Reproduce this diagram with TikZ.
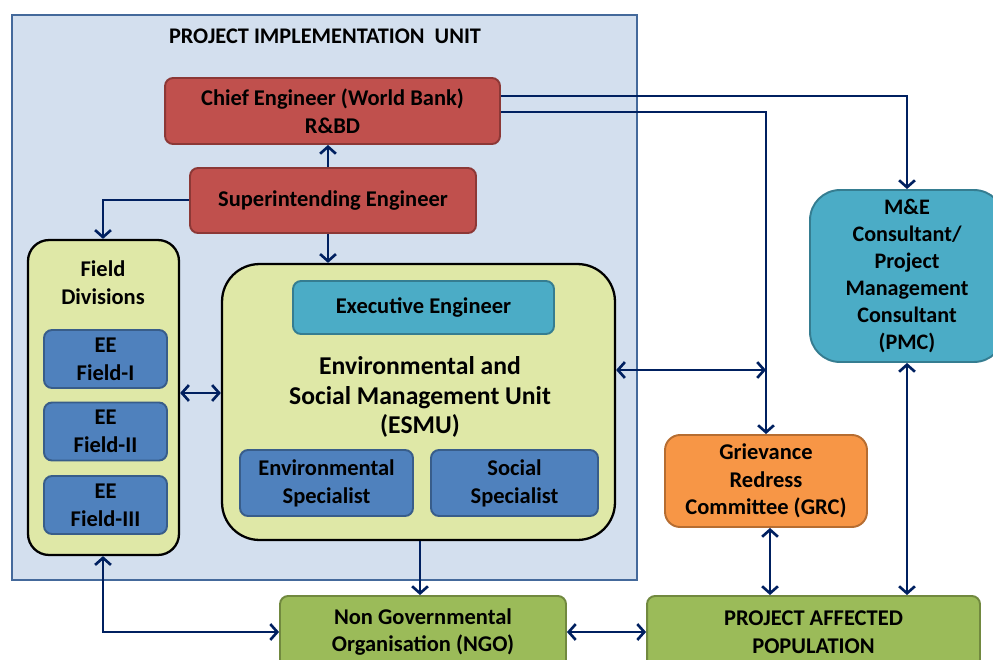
\documentclass[tikz,border=0pt]{standalone}
\usepackage{fontspec}
\setmainfont{Carlito}
\usetikzlibrary{arrows.meta,calc}
\definecolor{arrc}{HTML}{002060}
\definecolor{piufill}{HTML}{D3DFEE}
\definecolor{piudraw}{HTML}{44699B}
\definecolor{redfill}{HTML}{C0504D}
\definecolor{reddraw}{HTML}{8C3836}
\definecolor{ylfill}{HTML}{DFE8A7}
\definecolor{bluefill}{HTML}{4F81BD}
\definecolor{bluedraw}{HTML}{385D8A}
\definecolor{aquafill}{HTML}{4BACC6}
\definecolor{aquadraw}{HTML}{357D91}
\definecolor{orfill}{HTML}{F79646}
\definecolor{ordraw}{HTML}{B66D31}
\definecolor{grfill}{HTML}{9BBB59}
\definecolor{grdraw}{HTML}{71893F}
\tikzset{
  box/.style={draw, line width=1.1pt, rounded corners=0.16cm, align=center, inner sep=0pt,
    font=\bfseries\fontsize{12.8}{15.8}\selectfont},
  redbox/.style={box, fill=redfill, draw=reddraw},
  bluebox/.style={box, fill=bluefill, draw=bluedraw},
  aquabox/.style={box, fill=aquafill, draw=aquadraw},
  orbox/.style={box, fill=orfill, draw=ordraw},
  grbox/.style={box, fill=grfill, draw=grdraw},
  ylbox/.style={box, fill=ylfill, draw=black, line width=1.3pt},
  tip/.tip={Straight Barb[length=4pt,width=9pt]},
  arr/.style={draw=arrc, line width=1.5pt, -tip},
  darr/.style={draw=arrc, line width=1.5pt, tip-tip},
  lbl/.style={align=center, inner sep=0pt, font=\bfseries\fontsize{12.8}{15.8}\selectfont}
}
\begin{document}
\begin{tikzpicture}[x=0.02cm,y=-0.02cm]
\useasboundingbox (0,0) rectangle (993,659);
% PIU
\node[draw=piudraw, fill=piufill, line width=1.2pt, minimum width=12.5cm, minimum height=11.3cm, inner sep=0pt] (piu) at (324.5,297.5) {};
\node[lbl, font=\bfseries\fontsize{12.7}{14}\selectfont] (piut) at (325,36) {PROJECT IMPLEMENTATION\ \ UNIT};
% boxes
\node[redbox, minimum width=6.7cm, minimum height=1.32cm] (ce) at (332.5,111) {Chief Engineer (World Bank)\\R\&BD};
\node[redbox, minimum width=5.72cm, minimum height=1.3cm] (se) at (333,200.5) {Superintending Engineer};
\node[ylbox, rounded corners=0.42cm, minimum width=3.02cm, minimum height=6.3cm] (fd) at (103.5,397.5) {};
\node[lbl] (fdt) at (103,283) {Field\\Divisions};
\node[bluebox, minimum width=2.46cm, minimum height=1.16cm] (ee1) at (105.5,359) {EE\\Field-I};
\node[bluebox, minimum width=2.46cm, minimum height=1.16cm] (ee2) at (105.5,431.5) {EE\\Field-II};
\node[bluebox, minimum width=2.46cm, minimum height=1.16cm] (ee3) at (105.5,505) {EE\\Field-III};
\node[ylbox, rounded corners=0.75cm, minimum width=7.86cm, minimum height=5.52cm] (esmu) at (418.5,402) {};
\node[aquabox, minimum width=5.22cm, minimum height=1.06cm] (xe) at (423.5,307.5) {Executive Engineer};
\node[lbl, font=\bfseries\fontsize{14.6}{16.8}\selectfont] (esmut) at (420,397) {Environmental and\\Social Management Unit\\(ESMU)};
\node[bluebox, minimum width=3.46cm, minimum height=1.32cm] (env) at (326.5,483) {Environmental\\Specialist};
\node[bluebox, minimum width=3.34cm, minimum height=1.32cm] (soc) at (514.5,483) {Social\\Specialist};
\node[aquabox, rounded corners=0.6cm, minimum width=3.88cm, minimum height=3.44cm, font=\bfseries\fontsize{12.6}{15.3}\selectfont] (me) at (907,276) {M\&E\\Consultant/\\Project\\Management\\Consultant\\(PMC)};
\node[orbox, minimum width=4.04cm, minimum height=1.84cm, rounded corners=0.3cm] (grc) at (766,481) {Grievance\\Redress\\Committee (GRC)};
\node[grbox, minimum width=6.66cm, minimum height=1.44cm] (pap) at (813.5,632) {PROJECT AFFECTED\\POPULATION};
\node[grbox, minimum width=5.72cm, minimum height=1.44cm] (ngo) at (423,632) {Non Governmental\\Organisation (NGO)};
% helper coordinates
\coordinate (x328) at (328,0);
\coordinate (x103) at (103,0);
\coordinate (x420) at (420,0);
\coordinate (x766) at (766,0);
\coordinate (x770) at (770,0);
\coordinate (x907) at (907,0);
\coordinate (y96) at (0,96);
\coordinate (y112) at (0,112);
\coordinate (y200) at (0,200);
\coordinate (y370) at (0,370);
\coordinate (y393) at (0,393);
\coordinate (y632) at (0,632);
\coordinate (j1) at (766,370);
% connectors
\draw[arr] (se.north -| x328) -- (ce.south -| x328);
\draw[arr] (se.west |- y200) -| (fd.north -| x103);
\draw[arr] (se.south -| x328) -- (esmu.north -| x328);
\draw[darr] (fd.east |- y393) -- (esmu.west |- y393);
\draw[darr] (esmu.east |- y370) -- (j1);
\draw[arr] (ce.east |- y96) -| (me.north -| x907);
\draw[arr] (ce.east |- y112) -| (grc.north -| x766);
\draw[darr] (grc.south -| x770) -- (pap.north -| x770);
\draw[darr] (me.south -| x907) -- (pap.north -| x907);
\draw[arr] (esmu.south -| x420) -- (ngo.north -| x420);
\draw[darr] (fd.south -| x103) |- (ngo.west |- y632);
\draw[darr] (ngo.east |- y632) -- (pap.west |- y632);
\end{tikzpicture}
\end{document}
